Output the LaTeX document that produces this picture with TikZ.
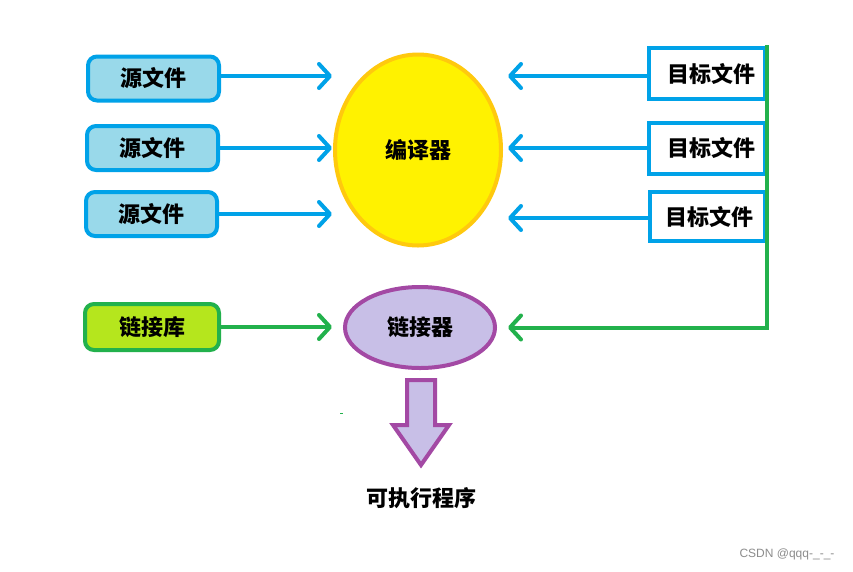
\documentclass[tikz,border=0pt]{standalone}
\usepackage{fontspec}
\newfontfamily\cjk{Noto Sans CJK SC}
\newfontfamily\wm{Liberation Sans}
\usetikzlibrary{arrows.meta,shapes.geometric}
\definecolor{pblue}{HTML}{00A2E8}
\definecolor{plblue}{HTML}{99D9EA}
\definecolor{pyellow}{HTML}{FFF200}
\definecolor{porange}{HTML}{FFC90E}
\definecolor{pgreen}{HTML}{22B14C}
\definecolor{plime}{HTML}{B5E61D}
\definecolor{ppurple}{HTML}{A349A4}
\definecolor{plav}{HTML}{C8BFE7}
\tikzset{
  lbl/.style={font=\cjk\bfseries\fontsize{22}{22}\selectfont, text=black},
  srcbox/.style={lbl, draw=pblue, fill=plblue, line width=4pt, rounded corners=9pt, minimum width=131pt, minimum height=44pt, inner sep=0pt},
  tgtbox/.style={lbl, draw=pblue, fill=white, line width=4pt, minimum width=116pt, minimum height=51pt, inner sep=0pt},
  libbox/.style={lbl, draw=pgreen, fill=plime, line width=4pt, rounded corners=9pt, minimum width=134pt, minimum height=46pt, inner sep=0pt},
  tip/.style={-{Straight Barb[length=11pt,width=24pt,round]}},
  barr/.style={draw=pblue, line width=4pt, tip},
  garr/.style={draw=pgreen, line width=4pt, tip},
}
\begin{document}
\begin{tikzpicture}[x=1pt,y=-1pt]
\useasboundingbox (0,0) rectangle (853,571);
\fill[white] (0,0) rectangle (853,571);
% source files
\node[srcbox] (s1) at (153.5,78.5) {源文件};
\node[srcbox] (s2) at (152.5,148) {源文件};
\node[srcbox] (s3) at (151.5,214) {源文件};
% compiler
\node[lbl, ellipse, draw=porange, fill=pyellow, line width=4pt, minimum width=166pt, minimum height=191pt, inner sep=0pt, outer sep=0pt] (comp) at (418,150) {编译器};
% target files
\node[tgtbox] (t1) at (707,73.5) {\hspace*{8pt}目标文件};
\node[tgtbox] (t2) at (707,148) {\hspace*{8pt}目标文件};
\node[tgtbox, minimum width=115pt, minimum height=49pt] (t3) at (707.5,216.5) {\hspace*{4pt}目标文件};
% library
\node[libbox] (lib) at (152,327) {链接库};
% linker
\node[lbl, ellipse, draw=ppurple, fill=plav, line width=4pt, minimum width=150pt, minimum height=81pt, inner sep=0pt, outer sep=0pt] (link) at (420,327.5) {链接器};
% tip coordinates
\coordinate (lt) at (332,0);
\coordinate (rt) at (508,0);
% arrows into compiler
\draw[barr] (s1.east |- 0,76) -- (lt |- 0,76);
\draw[barr] (s2.east |- 0,148) -- (lt |- 0,148);
\draw[barr] (s3.east |- 0,214) -- (lt |- 0,214);
\draw[barr] (t1.west |- 0,76) -- (rt |- 0,76);
\draw[barr] (t2.west |- 0,148) -- (rt |- 0,148);
\draw[barr] (t3.west |- 0,218) -- (rt |- 0,218);
% green connectors
\draw[garr] (lib.east) -- (lt |- lib.east);
\coordinate (gtop) at (767,45);
\draw[garr, line join=miter] (gtop) -- (gtop |- link) -- (rt |- link);
% output arrow
\draw[draw=ppurple, fill=plav, line width=4pt, line join=miter]
  (407,380) -- (435,380) -- (435,425) -- (449,425) -- (421,465) -- (393,425) -- (407,425) -- cycle;
\node[lbl] (exe) at (421,498) {可执行程序};
% stray mark
\fill[pgreen] (340,412.5) rectangle (343,413.5);
% watermark
\node[font=\wm\fontsize{12}{12}\selectfont, text=black!45] (wmk) at (787,554) {CSDN @qqq-\_-\_-};
\end{tikzpicture}
\end{document}
